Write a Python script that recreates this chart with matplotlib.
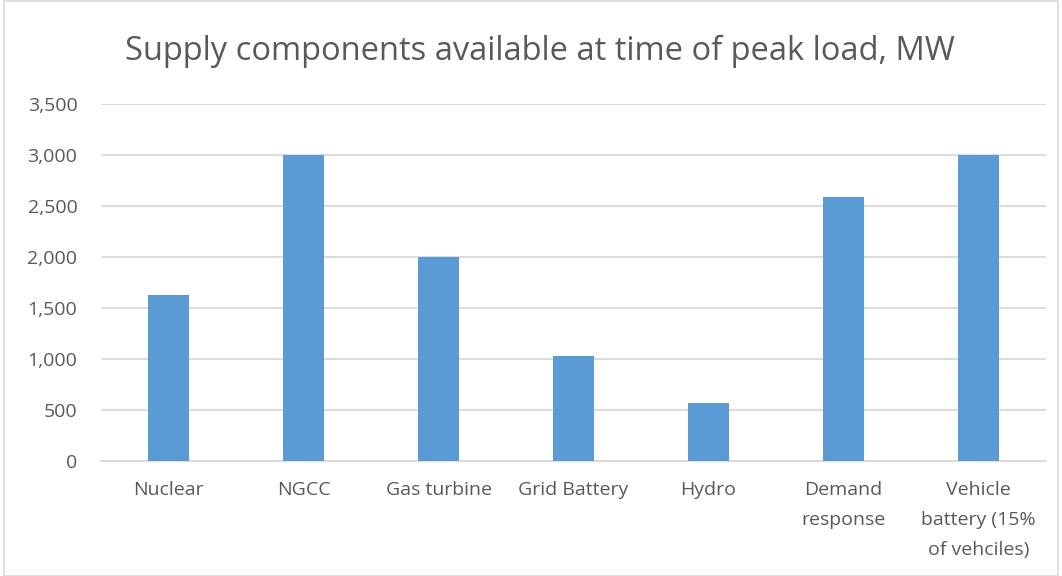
import matplotlib
matplotlib.use("Agg")
import matplotlib.pyplot as plt
from matplotlib.patches import Rectangle
from matplotlib.ticker import FuncFormatter, MultipleLocator

categories = ["Nuclear", "NGCC", "Gas turbine", "Grid Battery", "Hydro",
              "Demand\nresponse", "Vehicle\nbattery (15%\nof vehciles)"]
values = [1630, 3000, 2000, 1030, 570, 2590, 3000]

plt.rcParams['font.family'] = ['Open Sans', 'DejaVu Sans']
txt = '#595959'
grid = '#D9D9D9'

fig = plt.figure(figsize=(10.62, 5.76), dpi=100)
ax = fig.add_axes([0.0951, 0.1988, 0.8899, 0.6206])
x = range(len(categories))
ax.bar(x, values, width=0.31, color='#5B9BD5', zorder=3)
ax.set_xlim(-0.5, len(categories) - 0.5)
ax.set_ylim(0, 3500)
ax.yaxis.set_major_locator(MultipleLocator(500))
ax.yaxis.set_major_formatter(FuncFormatter(lambda v, p: f"{int(v):,}"))
ax.grid(axis='y', color=grid, linewidth=1.3, zorder=0)
for s in ['top', 'right', 'left']:
    ax.spines[s].set_visible(False)
ax.spines['bottom'].set_color(grid)
ax.spines['bottom'].set_linewidth(1.3)
ax.set_xticks(list(x))
ax.set_xticklabels(categories, fontsize=14, color=txt, linespacing=1.85, va='top')
ax.tick_params(axis='both', length=0, colors=txt, labelsize=14)
ax.tick_params(axis='x', pad=14)
ax.tick_params(axis='y', pad=17)
fig.text(0.508, 0.91, "Supply components available at time of peak load, MW",
         ha='center', va='center', fontsize=23.5, color=txt)
fig.patches.append(Rectangle((0.004, 0.0), 0.992, 0.998, transform=fig.transFigure,
                             fill=False, edgecolor=grid, linewidth=1.2))
fig.savefig("out.png", dpi=100)
